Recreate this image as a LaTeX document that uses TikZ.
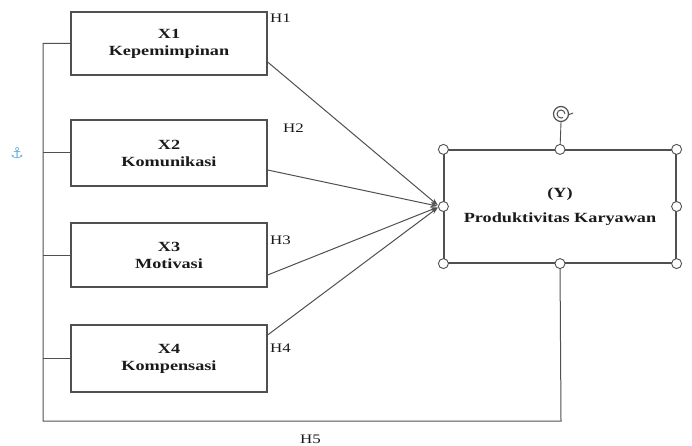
\documentclass[tikz,border=0pt]{standalone}
\usepackage{fontspec}
\setmainfont{Liberation Serif}
\newfontfamily\boxfont[FakeStretch=1.3]{Liberation Serif}
\newfontfamily\symfont{DejaVu Sans}
\usetikzlibrary{arrows.meta}
\definecolor{ln}{HTML}{505050}
\definecolor{tx}{HTML}{1A1A1A}
\definecolor{anc}{HTML}{6AAEDC}
\tikzset{
  xbox/.style={draw=ln, line width=1.2pt, minimum width=196pt, align=center, inner sep=0pt,
    font=\boxfont\fontsize{14}{17}\selectfont\bfseries, text=tx},
  ybox/.style={draw=ln, line width=1.2pt, minimum width=232pt, minimum height=113pt, align=center,
    font=\boxfont\fontsize{14}{25}\selectfont\bfseries, text=tx},
  hlab/.style={font=\boxfont\fontsize{13}{15}\selectfont, text=tx, anchor=west, inner sep=0pt},
  conn/.style={draw=ln, line width=1pt},
  arr/.style={conn, -{Stealth[length=7pt,width=5pt]}, shorten >=2pt},
  handle/.style={circle, draw=ln, fill=white, line width=0.9pt, minimum size=10pt, inner sep=0pt}
}
\begin{document}
\begin{tikzpicture}[x=1pt,y=-1pt]
\useasboundingbox (0,0) rectangle (692,446);
\fill[white] (0,0) rectangle (692,446);
% X boxes
\node[xbox, minimum height=63pt] (X1) at (169,43.5) {X1\\Kepemimpinan};
\node[xbox, minimum height=66pt] (X2) at (169,153) {X2\\Komunikasi};
\node[xbox, minimum height=64pt] (X3) at (169,255) {X3\\Motivasi};
\node[xbox, minimum height=67pt] (X4) at (169,358.5) {X4\\Kompensasi};
% Y box
\node[ybox] (Y) at (560,206.5) {(Y)\\Produktivitas Karyawan};
% left bracket and H5 loop
\coordinate (br) at (561,421);
\coordinate (bl) at (43,421);
\coordinate (tl) at (43,43.5);
\draw[conn] (Y.south) -- (br) -- (bl) -- (tl) -- (X1.west);
\draw[conn] (X2.west) -- (43,153);
\draw[conn] (X3.west) -- (43,255);
\draw[conn] (X4.west) -- (43,358.5);
% arrows
\draw[arr] ([yshift=-18.5pt]X1.east) -- ([xshift=-4pt]Y.west);
\draw[arr] ([yshift=-17pt]X2.east) -- ([xshift=-4pt]Y.west);
\draw[arr] ([yshift=-20pt]X3.east) -- ([xshift=-4pt]Y.west);
\draw[arr] ([yshift=23.5pt]X4.east) -- ([xshift=-4pt]Y.west);
% labels
\node[hlab] (h1) at (270,18) {H1};
\node[hlab] (h2) at (283,128) {H2};
\node[hlab] (h3) at (270,240) {H3};
\node[hlab] (h4) at (270,348) {H4};
\node[hlab] (h5) at (300,439) {H5};
% selection handles
\coordinate (rot) at (561,114);
\draw[draw=ln, line width=0.9pt] (rot) ++(0,8) -- (Y.north);
\draw[draw=ln, line width=1.2pt] (rot) circle (7.5pt);
\draw[draw=ln, line width=1pt] (rot) ++(4,0) arc (0:300:4pt);
\draw[draw=ln, line width=1pt] (rot) ++(7,1) -- ++(5,-2);
\foreach \a in {north west,north,north east,west,east,south west,south,south east}
  \node[handle] at (Y.\a) {};
% anchor icon
\node[text=anc, font=\symfont\fontsize{15}{15}\selectfont, inner sep=0pt] (anchor) at (17,153) {⚓};
\end{tikzpicture}
\end{document}
